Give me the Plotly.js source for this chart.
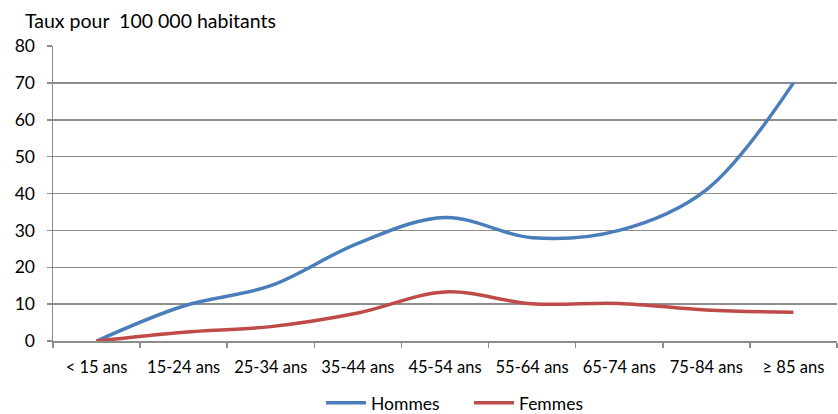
<!DOCTYPE html>
<html>
<head>
<meta charset="utf-8">
<script src="https://cdn.plot.ly/plotly-3.0.1.min.js"></script>
<style>
  html, body { margin: 0; padding: 0; background: #fff; }
  #chart { width: 838px; height: 414px; }
</style>
</head>
<body>
<div id="chart"></div>
<script>
// Tranches d'âge
const categories = ["< 15 ans", "15-24 ans", "25-34 ans", "35-44 ans", "45-54 ans",
                    "55-64 ans", "65-74 ans", "75-84 ans", "≥ 85 ans"];
// Taux pour 100 000 habitants
const hommes = [0, 9.5, 15, 26.5, 33.5, 28, 30, 41, 70];
const femmes = [0, 2.4, 3.9, 7.6, 13.3, 10.1, 10.2, 8.4, 7.8];
const yTicks = [0, 10, 20, 30, 40, 50, 60, 70, 80];

const font = "Lato, 'Noto Sans', sans-serif";

const traces = [
  {
    x: categories, y: hommes, name: "Hommes", type: "scatter", mode: "lines",
    line: { color: "#4A7EBB", width: 3.5, shape: "spline", smoothing: 1 }
  },
  {
    x: categories, y: femmes, name: "Femmes", type: "scatter", mode: "lines",
    line: { color: "#BE4B48", width: 3.5, shape: "spline", smoothing: 1 }
  }
];

const layout = {
  width: 838, height: 414,
  margin: { l: 53, r: 1, t: 46, b: 73, autoexpand: false },
  paper_bgcolor: "#fff", plot_bgcolor: "#fff",
  font: { family: font, size: 17, color: "#000" },
  title: {
    text: "Taux pour  100 000 habitants",
    xref: "container", yref: "container",
    x: 25 / 838, xanchor: "left",
    y: 1 - 21 / 414, yanchor: "middle",
    font: { family: font, size: 19.5, color: "#000" }
  },
  showlegend: true,
  legend: {
    orientation: "h", xref: "container", x: 321 / 838, xanchor: "left",
    yref: "paper", y: -0.21, yanchor: "middle",
    entrywidth: 93, entrywidthmode: "pixels",
    font: { family: font, size: 17.5 }, itemwidth: 40, tracegroupgap: 0
  },
  xaxis: {
    type: "category", categoryorder: "array", categoryarray: categories,
    showgrid: false, showline: true, linecolor: "#8c8c8c", linewidth: 1.5,
    ticks: "outside", tickson: "boundaries", ticklen: 5, tickcolor: "#8c8c8c", tickwidth: 1.5,
    ticklabelstandoff: 11, tickangle: 0,
    tickfont: { family: font, size: 16.5 }, fixedrange: true,
    range: [-0.5, categories.length - 0.5]
  },
  yaxis: {
    range: [0, 80], tickvals: yTicks, ticktext: yTicks.map(String),
    showgrid: true, gridcolor: "#8c8c8c", gridwidth: 1.5,
    showline: true, linecolor: "#8c8c8c", linewidth: 1.5,
    ticks: "outside", ticklen: 5, tickcolor: "#8c8c8c", tickwidth: 1.5,
    ticklabelstandoff: 8,
    zeroline: false, tickfont: { family: font, size: 17.5 }, fixedrange: true
  }
};

Plotly.newPlot("chart", traces, layout, { displayModeBar: false, staticPlot: true });
</script>
</body>
</html>
